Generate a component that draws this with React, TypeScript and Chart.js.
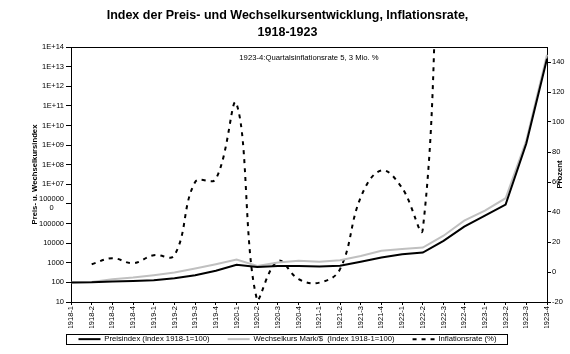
import React, { useEffect, useRef } from 'react';
import { Chart, registerables } from 'chart.js';

Chart.register(...registerables);

const FONT = '"Liberation Sans", Arial, Helvetica, sans-serif';

const titleLines = ['Index der Preis- und Wechselkursentwicklung, Inflationsrate,', '1918-1923'];
const leftAxisTitle = 'Preis- u. Wechselkursindex';
const rightAxisTitle = 'Prozent';
const annotationText = '1923-4:Quartalsinflationsrate 5, 3 Mio. %';

const categories = [
  '1918-1', '1918-2', '1918-3', '1918-4',
  '1919-1', '1919-2', '1919-3', '1919-4',
  '1920-1', '1920-2', '1920-3', '1920-4',
  '1921-1', '1921-2', '1921-3', '1921-4',
  '1922-1', '1922-2', '1922-3', '1922-4',
  '1923-1', '1923-2', '1923-3', '1923-4',
];

const priceIndex = [
  100, 102, 110, 119,
  129, 163, 233, 388,
  790, 616, 690, 690,
  650, 700, 1120, 1860,
  2750, 3300, 13200, 69000,
  251000, 920000, 1.2e9, 2.5e13,
];

const exchangeIndex = [
  100, 106, 145, 175,
  232, 316, 505, 850,
  1450, 690, 1030, 1260,
  1120, 1350, 2230, 4050,
  5000, 6000, 24000, 140000,
  460000, 1.95e6, 1.7e9, 4e13,
];

const inflationRate = [
  null, 5.2, 9.2, 5.9,
  11.2, 11.2, 60, 62,
  112, -19, 7.4, -4.8,
  -7.1, 1.9, 49.8, 67.7,
  56, 28.7, 300, 420,
  260, 270, 130000, 5300000,
];

const seriesNames = [
  'Preisindex (Index 1918-1=100)',
  'Wechselkurs Mark/$  (Index 1918-1=100)',
  'Inflationsrate (%)',
];

const leftTickValues = [10, 100, 1e3, 1e4, 1e5, 1e6, 1e7, 1e8, 1e9, 1e10, 1e11, 1e12, 1e13, 1e14];
const leftTickLabels: (string | string[])[] = [
  '10', '100', '1000', '10000', '100000', ['100000', '0     '],
  '1E+07', '1E+08', '1E+09', '1E+10', '1E+11', '1E+12', '1E+13', '1E+14',
];
const rightTickValues = [-20, 0, 20, 40, 60, 80, 100, 120, 140];
const rightMin = -20;
const rightMax = 150;

const LEGEND_GAP = '     ';

export default function App() {
  const ref = useRef<HTMLCanvasElement>(null);

  useEffect(() => {
    document.body.style.margin = '0';
    Chart.defaults.font.family = FONT;
    Chart.defaults.color = '#000';

    const extras = {
      id: 'extras',
      afterDraw(chart: any) {
        const { ctx, chartArea: a } = chart;
        ctx.save();
        ctx.strokeStyle = '#000';
        ctx.lineWidth = 1;
        ctx.beginPath();
        ctx.moveTo(a.left, Math.round(a.top) + 0.5);
        ctx.lineTo(a.right, Math.round(a.top) + 0.5);
        ctx.stroke();

        ctx.fillStyle = '#000';
        ctx.font = `7.7px ${FONT}`;
        ctx.textAlign = 'center';
        ctx.textBaseline = 'middle';
        ctx.fillText(annotationText, (a.left + a.right) / 2, a.top + 11);

        ctx.save();
        ctx.translate(chart.width - 10, (a.top + a.bottom) / 2);
        ctx.rotate(-Math.PI / 2);
        ctx.font = `bold 7.7px ${FONT}`;
        ctx.fillText(rightAxisTitle, 0, 0);
        ctx.restore();

        const hb = chart.legend && chart.legend.legendHitBoxes;
        if (hb && hb.length) {
          const l = hb[0].left - 12;
          const last = hb[hb.length - 1];
          const r = last.left + last.width + 11;
          const cy = hb[0].top + hb[0].height / 2;
          const t = cy - 5;
          const b = cy + 5;
          ctx.strokeRect(Math.round(l) + 0.5, Math.round(t) + 0.5, Math.round(r - l), Math.round(b - t));
        }
        ctx.restore();
      },
    };

    const chart = new Chart(ref.current!, {
      type: 'line',
      data: {
        labels: categories,
        datasets: [
          {
            label: seriesNames[0],
            data: priceIndex,
            yAxisID: 'y',
            borderColor: '#000000',
            backgroundColor: '#000000',
            borderWidth: 2,
            pointRadius: 0,
            tension: 0,
          },
          {
            label: seriesNames[1],
            data: exchangeIndex,
            yAxisID: 'y',
            borderColor: '#c0c0c0',
            backgroundColor: '#c0c0c0',
            borderWidth: 2,
            pointRadius: 0,
            tension: 0,
          },
          {
            label: seriesNames[2],
            data: inflationRate,
            yAxisID: 'y1',
            borderColor: '#000000',
            backgroundColor: '#000000',
            borderWidth: 2,
            borderDash: [4, 5],
            pointRadius: 0,
            tension: 0.4,
          },
        ],
      },
      options: {
        responsive: false,
        animation: false,
        events: [],
        layout: { padding: { left: 5, right: 0, top: 0, bottom: 1 } },
        plugins: {
          title: {
            display: true,
            text: titleLines,
            color: '#000',
            font: { family: FONT, size: 12.5, weight: 'bold', lineHeight: 1.36 },
            padding: { top: 7.5, bottom: 5.5 },
          },
          legend: {
            position: 'bottom',
            labels: {
              usePointStyle: true,
              pointStyle: 'line',
              pointStyleWidth: 22,
              padding: 7.3,
              color: '#000',
              font: { family: FONT, size: 7.7 },
              generateLabels: (ch: any) => {
                const items = (Chart.defaults as any).plugins.legend.labels.generateLabels(ch);
                return items.map((it: any, i: number) => {
                  const ds = ch.data.datasets[it.datasetIndex];
                  return {
                    ...it,
                    text: i < items.length - 1 ? it.text + LEGEND_GAP : it.text,
                    lineDash: ds.borderDash || [],
                    lineWidth: ds.borderWidth,
                    strokeStyle: ds.borderColor,
                  };
                });
              },
            },
          },
          tooltip: { enabled: false },
        },
        scales: {
          x: {
            type: 'category',
            offset: false,
            grid: { drawOnChartArea: false, drawTicks: true, tickLength: 3, color: '#000' },
            border: { display: true, color: '#000', width: 1 },
            ticks: {
              autoSkip: false,
              minRotation: 90,
              maxRotation: 90,
              padding: 1,
              color: '#000',
              font: { family: FONT, size: 7.5 },
            },
            afterFit(s: any) {
              s.height = 26;
            },
          },
          y: {
            type: 'logarithmic',
            position: 'left',
            min: 10,
            max: 1e14,
            grid: { drawOnChartArea: false, drawTicks: true, tickLength: 5, color: '#000' },
            border: { display: true, color: '#000', width: 1 },
            title: {
              display: true,
              text: leftAxisTitle,
              color: '#000',
              font: { family: FONT, size: 7.7, weight: 'bold' },
              padding: { top: 25.5, bottom: 0 },
            },
            ticks: {
              autoSkip: false,
              padding: 2,
              color: '#000',
              font: { family: FONT, size: 7.5 },
              callback: (_v: any, i: number) => leftTickLabels[i],
            },
            afterBuildTicks(s: any) {
              s.ticks = leftTickValues.map((value) => ({ value }));
            },
            afterFit(s: any) {
              s.width = 66;
            },
          },
          y1: {
            type: 'linear',
            position: 'right',
            min: rightMin,
            max: rightMax,
            grid: { drawOnChartArea: false, drawTicks: true, tickLength: 4, color: '#000' },
            border: { display: true, color: '#000', width: 1 },
            ticks: {
              autoSkip: false,
              padding: 1,
              color: '#000',
              font: { family: FONT, size: 7.5 },
            },
            afterBuildTicks(s: any) {
              s.ticks = rightTickValues.map((value) => ({ value }));
            },
            afterFit(s: any) {
              s.width = 23;
            },
          },
        },
      },
      plugins: [extras],
    } as any);

    return () => chart.destroy();
  }, []);

  return <canvas ref={ref} width={570} height={354} style={{ display: 'block' }} />;
}
